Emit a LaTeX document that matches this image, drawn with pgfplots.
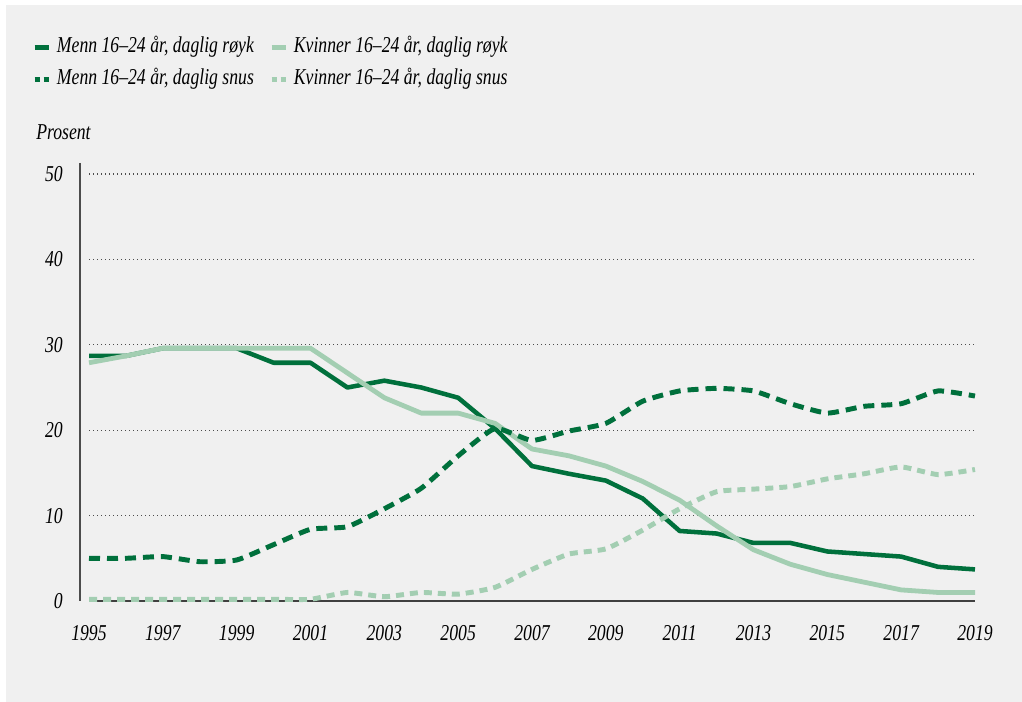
\documentclass[border=0pt]{standalone}
\usepackage{fontspec}
\setmainfont{Liberation Serif}[FakeStretch=0.78]
\usepackage{pgfplots}
\pgfplotsset{compat=1.18}
\definecolor{dg}{RGB}{0,112,60}
\definecolor{lg}{RGB}{163,206,178}
\definecolor{bg}{RGB}{240,240,240}
\begin{document}
\fontsize{17}{20}\selectfont\itshape
\begin{tikzpicture}
\fill[white] (0,0) rectangle (766.5pt,-526.5pt);
\fill[bg] (4.5pt,-3.75pt) rectangle (766.5pt,-526.5pt);
\begin{axis}[
  at={(66.75pt,-450.75pt)}, anchor=south west,
  scale only axis, width=664.5pt, height=320.25pt,
  xmin=1995, xmax=2019, ymin=0, ymax=50,
  clip=false,
  axis x line*=bottom, axis y line*=left,
  y axis line style={draw=none},
  x axis line style={line width=1.5pt, color=black!75, -},
  xtick={1995,1997,...,2019}, ytick={0,10,...,50},
  major tick length=0pt,
  ymajorgrids,
  grid style={line width=0.8pt, color=black!70, dash pattern=on 0.8pt off 2.2pt},
  /pgf/number format/assume math mode=true,
  /pgf/number format/1000 sep={},
  ticklabel style={font=\itshape},
  yticklabel style={anchor=east, inner sep=0pt, xshift=-19.5pt},
  xticklabel style={anchor=north, inner sep=0pt, yshift=-18pt},
  legend columns=2,
  legend cell align=left,
  legend style={at={(-0.0643,1.320)}, anchor=north west, draw=none, fill=none,
    inner sep=0pt, row sep=9pt, column sep=4pt,
    /tikz/every even column/.append style={column sep=11.5pt},
    nodes={inner sep=0pt, text height=11pt, text depth=4pt}, font=\itshape},
]
\addplot[dg, line width=3.4pt, line join=round,
  legend image code/.code={\draw[dg, line width=3.2pt] (0pt,0pt) -- (10.5pt,0pt);}]
  coordinates {(1995,28.7)(1996,28.7)(1997,29.6)(1998,29.6)(1999,29.6)(2000,27.9)(2001,27.9)(2002,25.0)(2003,25.8)(2004,25.0)(2005,23.8)(2006,20.2)(2007,15.8)(2008,14.9)(2009,14.1)(2010,12.0)(2011,8.2)(2012,7.9)(2013,6.8)(2014,6.8)(2015,5.8)(2016,5.5)(2017,5.2)(2018,4.0)(2019,3.7)};
\addlegendentry{Menn 16–24 år, daglig røyk}
\addplot[lg, line width=3.6pt, line join=round,
  legend image code/.code={\draw[lg, line width=3.2pt] (0pt,0pt) -- (10.5pt,0pt);}]
  coordinates {(1995,27.9)(1996,28.7)(1997,29.6)(1998,29.6)(1999,29.6)(2000,29.6)(2001,29.6)(2002,26.7)(2003,23.8)(2004,22.0)(2005,22.0)(2006,20.8)(2007,17.8)(2008,17.0)(2009,15.8)(2010,14.0)(2011,11.8)(2012,8.8)(2013,6.0)(2014,4.3)(2015,3.1)(2016,2.2)(2017,1.3)(2018,1.0)(2019,1.0)};
\addlegendentry{Kvinner 16–24 år, daglig røyk}
\addplot[dg, line width=3.7pt, smooth, tension=0.3, dash pattern=on 8.25pt off 5.25pt,
  legend image code/.code={\draw[dg, line width=3.5pt, dash pattern=on 4.25pt off 2.5pt] (0pt,0pt) -- (11pt,0pt);}]
  coordinates {(1995,5.0)(1996,5.0)(1997,5.2)(1998,4.6)(1999,4.8)(2000,6.6)(2001,8.4)(2002,8.7)(2003,10.8)(2004,13.2)(2005,17.0)(2006,20.2)(2007,18.8)(2008,19.9)(2009,20.8)(2010,23.4)(2011,24.6)(2012,24.9)(2013,24.6)(2014,23.1)(2015,22.0)(2016,22.8)(2017,23.1)(2018,24.6)(2019,24.0)};
\addlegendentry{Menn 16–24 år, daglig snus}
\addplot[lg, line width=3.7pt, smooth, tension=0.3, dash pattern=on 6pt off 4.5pt,
  legend image code/.code={\draw[lg, line width=3.5pt, dash pattern=on 4.25pt off 2.5pt] (0pt,0pt) -- (11pt,0pt);}]
  coordinates {(1995,0.2)(1996,0.2)(1997,0.2)(1998,0.2)(1999,0.2)(2000,0.2)(2001,0.2)(2002,1.0)(2003,0.5)(2004,1.0)(2005,0.8)(2006,1.6)(2007,3.7)(2008,5.5)(2009,6.1)(2010,8.3)(2011,10.8)(2012,12.8)(2013,13.1)(2014,13.4)(2015,14.3)(2016,14.9)(2017,15.7)(2018,14.8)(2019,15.4)};
\addlegendentry{Kvinner 16–24 år, daglig snus}
\end{axis}
\draw[line width=1.5pt, color=black!70] (60pt,-122.25pt) -- (60pt,-450.75pt);
\node[anchor=base west, inner sep=0pt] at (27pt,-105pt) {Prosent};
\end{tikzpicture}
\end{document}
